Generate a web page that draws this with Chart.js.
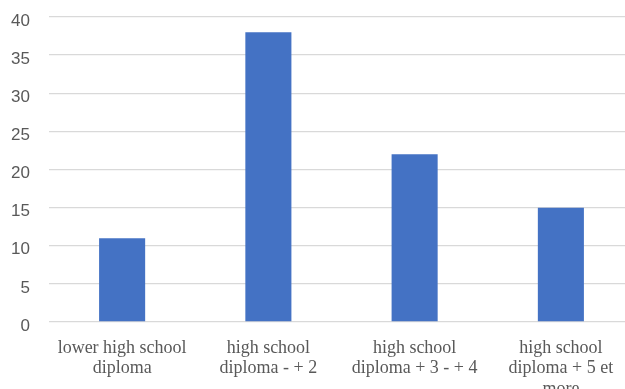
<!DOCTYPE html>
<html>
<head>
<meta charset="utf-8">
<script src="https://cdn.jsdelivr.net/npm/chart.js@4/dist/chart.umd.min.js"></script>
<style>
  html, body { margin: 0; padding: 0; background: #fff; overflow: hidden; }
  #wrap { position: absolute; left: 0; top: 0; width: 634px; height: 400px; }
</style>
</head>
<body>
<div id="wrap"><canvas id="chart"></canvas></div>
<script>
// Education level categories (multi-line labels)
const categories = [
  ['lower high school', 'diploma'],
  ['high school', 'diploma - + 2'],
  ['high school', 'diploma + 3 - + 4'],
  ['high school', 'diploma + 5 et', 'more']
];
// Values per category
const values = [11, 38, 22, 15];
// Value axis ticks
const yTicks = [0, 5, 10, 15, 20, 25, 30, 35, 40];

new Chart(document.getElementById('chart'), {
  type: 'bar',
  data: {
    labels: categories,
    datasets: [{
      data: values,
      backgroundColor: '#4472C4',
      borderWidth: 0,
      barPercentage: 1,
      categoryPercentage: 0.315
    }]
  },
  options: {
    responsive: true,
    maintainAspectRatio: false,
    animation: false,
    layout: { padding: { top: 17, right: 0, left: 0, bottom: 0 } },
    plugins: { legend: { display: false }, tooltip: { enabled: false } },
    scales: {
      x: {
        grid: { display: false },
        border: { display: false },
        ticks: {
          color: '#595959',
          font: { family: '"Liberation Serif", "Times New Roman", serif', size: 18, lineHeight: 1.13 },
          padding: 8,
          maxRotation: 0,
          autoSkip: false
        },
        afterFit(scale) {
          scale.height = 78;
          scale.paddingLeft = 0;
          scale.paddingRight = 0;
        }
      },
      y: {
        min: 0,
        max: 40,
        afterBuildTicks(scale) { scale.ticks = yTicks.map(v => ({ value: v })); },
        border: { display: false },
        grid: { color: '#d9d9d9', lineWidth: 1.3, drawTicks: false },
        ticks: {
          color: '#595959',
          font: { family: '"Liberation Sans", Arial, sans-serif', size: 17 },
          padding: 19,
          labelOffset: 4
        },
        afterFit(scale) {
          scale.width = 49;
          scale.paddingTop = 0;
          scale.paddingBottom = 0;
        }
      }
    }
  }
});
</script>
</body>
</html>
